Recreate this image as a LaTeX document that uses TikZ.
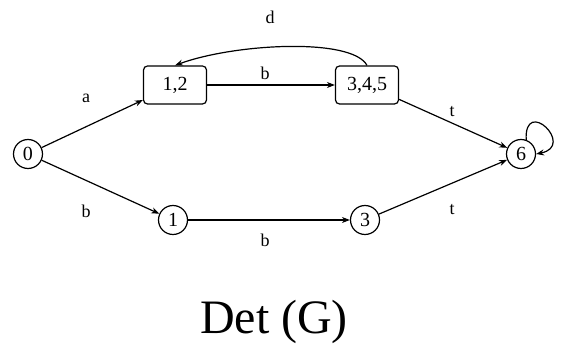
\documentclass[tikz,border=0pt]{standalone}
\usepackage{fontspec}
\setmainfont{Liberation Serif}
\usetikzlibrary{arrows.meta}
\tikzset{
  state/.style={draw, circle, line width=1.2pt, inner sep=0pt, minimum size=29pt, font=\fontsize{20}{20}\selectfont},
  setstate/.style={draw, rounded corners=4pt, line width=1.2pt, minimum width=63pt, minimum height=38pt, font=\fontsize{20}{20}\selectfont},
  lbl/.style={font=\fontsize{18}{18}\selectfont},
  edge/.style={->, line width=1.2pt},
  >={Stealth[length=8pt,width=6pt]}
}
\begin{document}
\begin{tikzpicture}[x=1pt,y=1pt]
\useasboundingbox (0,0) rectangle (562,353);
% states
\node[state] (s0) at (28,199) {0};
\node[setstate] (s12) at (175,268) {1,2};
\node[setstate] (s345) at (367,268) {3,4,5};
\node[state] (s1) at (173,133) {1};
\node[state] (s3) at (365,133) {3};
\node[state] (s6) at (521,199) {6};

% transitions
\draw[edge] (s0) -- (s12);
\draw[edge] (s0) -- (s1);
\draw[edge] (s12) -- (s345);
\draw[edge] (s1) -- (s3);
\draw[edge] (s345) -- (s6);
\draw[edge] (s3) -- (s6);
\draw[edge] (s345.north) .. controls +(-15,28) and +(60,22) .. (s12.north);
\draw[edge] (s6.70) .. controls +(-2,44) and +(40,8) .. (s6.east);

% labels
\node[lbl] (la) at (86,255) {a};
\node[lbl] (lb1) at (86,142) {b};
\node[lbl] (lb2) at (265,280) {b};
\node[lbl] (lb3) at (265,113) {b};
\node[lbl] (ld) at (270,336) {d};
\node[lbl] (lt1) at (452,241) {t};
\node[lbl] (lt2) at (452,143) {t};

\node[font=\fontsize{48}{48}\selectfont] (title) at (274,31) {Det (G)};
\end{tikzpicture}
\end{document}
